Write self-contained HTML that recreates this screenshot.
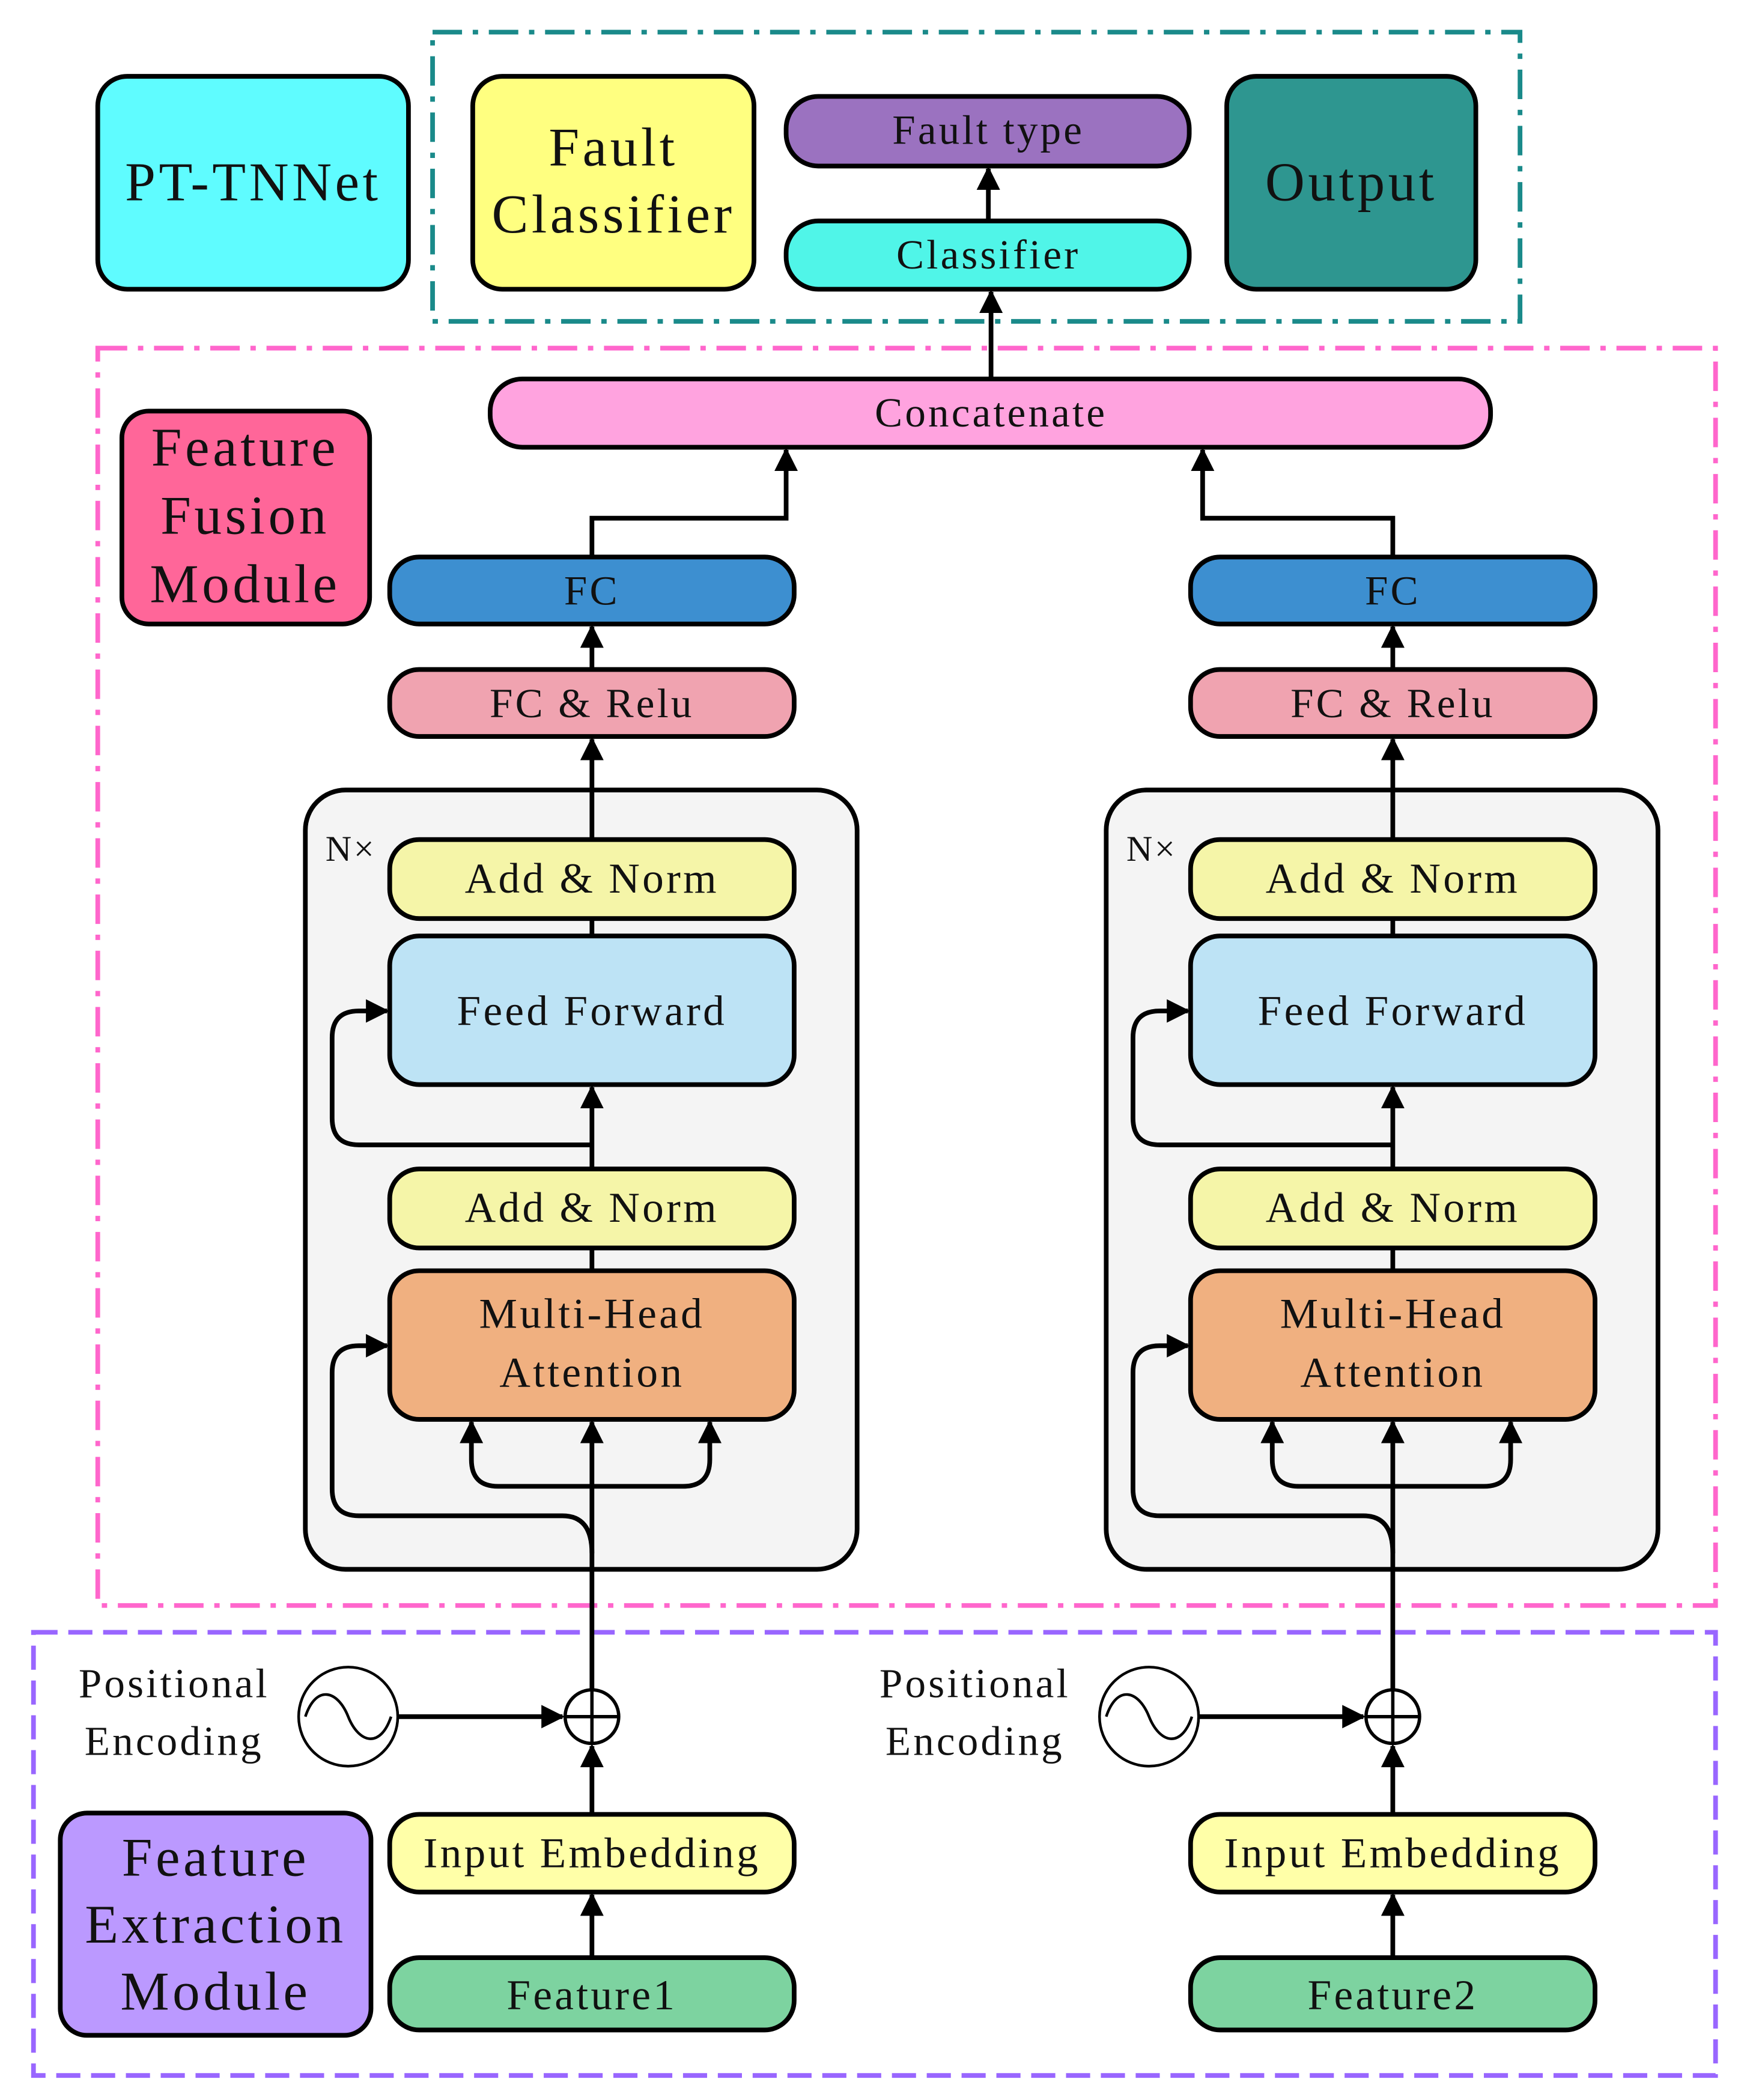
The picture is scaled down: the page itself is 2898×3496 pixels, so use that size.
<!DOCTYPE html>
<html><head><meta charset="utf-8"><style>
html,body{margin:0;padding:0;background:#fff;}
svg{display:block;}
text{font-family:"Liberation Serif",serif;fill:#111;text-anchor:middle;dominant-baseline:central;letter-spacing:0.06em;}
</style></head><body>
<svg width="2898" height="3496" viewBox="0 0 1300 1568.3" preserveAspectRatio="none" xmlns="http://www.w3.org/2000/svg">
<defs>
<marker id="a" viewBox="0 0 10 10" refX="9" refY="5" markerWidth="5" markerHeight="5" orient="auto" markerUnits="strokeWidth">
<path d="M0,0 L10,5 L0,10 z" fill="#000"/></marker>
</defs>
<g stroke="#000" stroke-width="3.5">
<rect x="323" y="24" width="812" height="216" fill="none" stroke="#1a8a8a" stroke-width="3.5" stroke-dasharray="22,8,4,8"/>
<rect x="73" y="260" width="1208" height="939" fill="none" stroke="#ff66cc" stroke-width="3.5" stroke-dasharray="22,8,4,8"/>
<rect x="25" y="1219" width="1256" height="331" fill="none" stroke="#9966ff" stroke-width="3.5" stroke-dasharray="18,8"/>

<rect x="73" y="57" width="232" height="159" rx="22" fill="#5ffcff"/>
<rect x="353" y="57" width="210" height="159" rx="22" fill="#ffff80"/>
<rect x="587" y="72" width="301" height="52" rx="24" fill="#9b72c0"/>
<rect x="587" y="165" width="301" height="51" rx="24" fill="#50f5e8"/>
<rect x="916" y="57" width="186" height="159" rx="22" fill="#2e9690"/>
<rect x="366" y="283" width="747" height="51" rx="24" fill="#ffa3df"/>
<rect x="91" y="307" width="185" height="159" rx="20" fill="#ff6699"/>
<rect x="45" y="1354" width="232" height="166" rx="20" fill="#bb99ff"/>

<line x1="740" y1="283" x2="740" y2="218" marker-end="url(#a)" fill="none"/>
<line x1="738" y1="165" x2="738" y2="126" marker-end="url(#a)" fill="none"/>
<polyline points="442,416 442,387 587,387 587,336" fill="none" marker-end="url(#a)"/>
<polyline points="1040,416 1040,387 898,387 898,336" fill="none" marker-end="url(#a)"/>
</g>

<g id="col" stroke="#000" stroke-width="3.5">
<rect x="228" y="590" width="412" height="582" rx="30" fill="#f4f4f4"/>
<line x1="442" y1="1262" x2="442" y2="1062" marker-end="url(#a)"/>
<path d="M442,1110 L372,1110 Q352,1110 352,1090 L352,1062" fill="none" marker-end="url(#a)"/>
<path d="M442,1110 L510,1110 Q530,1110 530,1090 L530,1062" fill="none" marker-end="url(#a)"/>
<path d="M442,1160 Q442,1132 420,1132 L268,1132 Q248,1132 248,1112 L248,1025 Q248,1005 268,1005 L289,1005" fill="none" marker-end="url(#a)"/>
<line x1="442" y1="949" x2="442" y2="932"/>
<line x1="442" y1="873" x2="442" y2="812" marker-end="url(#a)"/>
<path d="M442,855 L268,855 Q248,855 248,835 L248,775 Q248,755 268,755 L289,755" fill="none" marker-end="url(#a)"/>
<line x1="442" y1="699" x2="442" y2="686"/>
<line x1="442" y1="627" x2="442" y2="552" marker-end="url(#a)"/>
<line x1="442" y1="500" x2="442" y2="468" marker-end="url(#a)"/>
<line x1="442" y1="1355" x2="442" y2="1304" marker-end="url(#a)"/>
<line x1="442" y1="1462" x2="442" y2="1415" marker-end="url(#a)"/>
<line x1="297" y1="1282" x2="420" y2="1282" marker-end="url(#a)"/>
<rect x="291" y="416" width="302" height="50" rx="22" fill="#3d8fd0"/>
<rect x="291" y="500" width="302" height="50" rx="22" fill="#f0a3b0"/>
<rect x="291" y="627" width="302" height="59" rx="22" fill="#f5f5a8"/>
<rect x="291" y="699" width="302" height="111" rx="22" fill="#bde3f5"/>
<rect x="291" y="873" width="302" height="59" rx="22" fill="#f5f5a8"/>
<rect x="291" y="949" width="302" height="111" rx="22" fill="#f0b080"/>
<rect x="291" y="1355" width="302" height="58" rx="22" fill="#ffffa8"/>
<rect x="291" y="1462" width="302" height="54" rx="22" fill="#7dd3a0"/>
<circle cx="442" cy="1282" r="20" fill="#fff" stroke-width="2.5"/>
<line x1="422" y1="1282" x2="462" y2="1282" stroke-width="2.5"/>
<line x1="442" y1="1262" x2="442" y2="1302" stroke-width="2.5"/>
<circle cx="260" cy="1282" r="37" fill="#fff" stroke-width="2"/>
<path d="M228,1282 C236,1258 252,1262 260,1282 C268,1302 284,1306 292,1282" fill="none" stroke-width="2"/>
</g>
<g stroke="none">
<text x="442" y="441" font-size="31">FC</text>
<text x="442" y="525" font-size="31">FC &amp; Relu</text>
<text x="442" y="656" font-size="32">Add &amp; Norm</text>
<text x="442" y="755" font-size="32">Feed Forward</text>
<text x="442" y="902" font-size="32">Add &amp; Norm</text>
<text x="442" y="981" font-size="32">Multi-Head</text>
<text x="442" y="1025" font-size="32">Attention</text>
<text x="442" y="1384" font-size="32">Input Embedding</text>
<text x="442" y="1490" font-size="32">Feature1</text>
<text x="262" y="634" font-size="27">N×</text>
<text x="130" y="1257" font-size="31">Positional</text>
<text x="130" y="1300" font-size="31">Encoding</text>
</g>
<g transform="translate(598,0)">
<use href="#col"/>
<g stroke="none">
<text x="442" y="441" font-size="31">FC</text>
<text x="442" y="525" font-size="31">FC &amp; Relu</text>
<text x="442" y="656" font-size="32">Add &amp; Norm</text>
<text x="442" y="755" font-size="32">Feed Forward</text>
<text x="442" y="902" font-size="32">Add &amp; Norm</text>
<text x="442" y="981" font-size="32">Multi-Head</text>
<text x="442" y="1025" font-size="32">Attention</text>
<text x="442" y="1384" font-size="32">Input Embedding</text>
<text x="442" y="1490" font-size="32">Feature2</text>
<text x="262" y="634" font-size="27">N×</text>
<text x="130" y="1257" font-size="31">Positional</text>
<text x="130" y="1300" font-size="31">Encoding</text>
</g>
</g>
<g stroke="none">
<text x="189" y="136" font-size="41">PT-TNNet</text>
<text x="458" y="110" font-size="41">Fault</text>
<text x="458" y="160" font-size="41">Classifier</text>
<text x="738" y="97" font-size="31">Fault type</text>
<text x="738" y="190" font-size="31">Classifier</text>
<text x="1009" y="136" font-size="41">Output</text>
<text x="740" y="308" font-size="31">Concatenate</text>
<text x="183" y="334" font-size="41">Feature</text>
<text x="183" y="385" font-size="41">Fusion</text>
<text x="183" y="436" font-size="41">Module</text>
<text x="161" y="1387" font-size="41">Feature</text>
<text x="161" y="1437" font-size="41">Extraction</text>
<text x="161" y="1487" font-size="41">Module</text>
</g>
</svg>
</body></html>
